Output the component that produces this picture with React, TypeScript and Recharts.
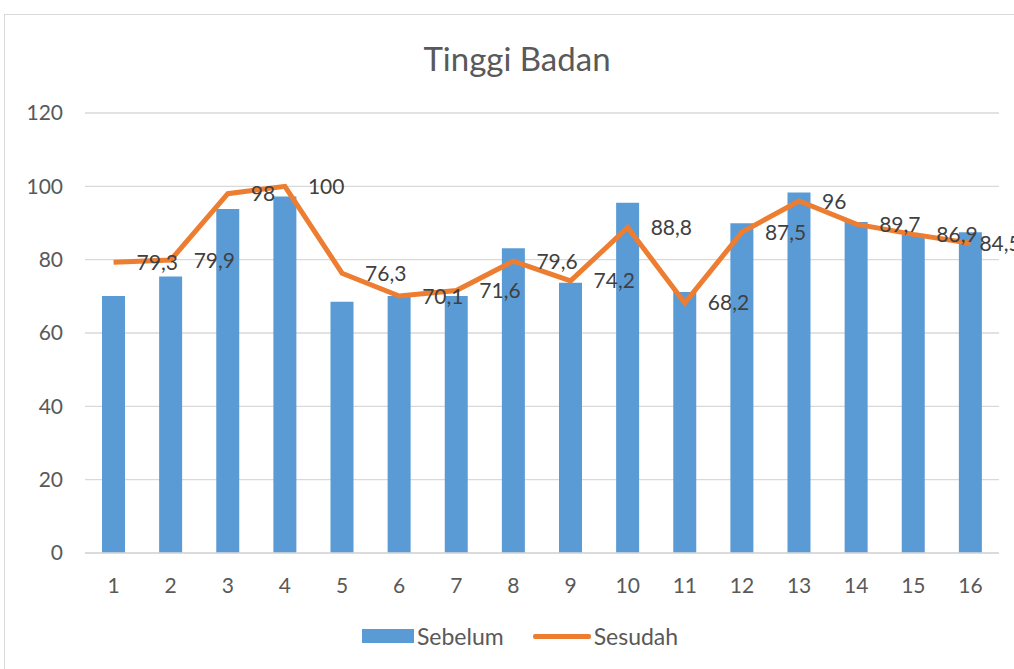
import { ComposedChart, Bar, Line, XAxis, YAxis, CartesianGrid, LabelList } from 'recharts'

const categories = ['1', '2', '3', '4', '5', '6', '7', '8', '9', '10', '11', '12', '13', '14', '15', '16']
const sebelum = [70.1, 75.4, 93.8, 97.2, 68.5, 70.1, 70.1, 83.1, 73.7, 95.5, 71.2, 89.9, 98.3, 90.3, 86.7, 87.5]
const sesudah = [79.3, 79.9, 98, 100, 76.3, 70.1, 71.6, 79.6, 74.2, 88.8, 68.2, 87.5, 96, 89.7, 86.9, 84.5]
const yTicks = [0, 20, 40, 60, 80, 100, 120]

const FONT = 'Lato, "Open Sans", sans-serif'
const BLUE = '#5B9BD5'
const ORANGE = '#ED7D31'

const data = categories.map((c, i) => ({ cat: c, sebelum: sebelum[i], sesudah: sesudah[i] }))

const fmt = (v: number | string) => String(v).replace('.', ',')

// Excel pulls the last label in so it stays near the plot edge
const PointLabel = (props: any) => {
  const { x, y, value, index } = props
  const last = index === sesudah.length - 1
  return (
    <text
      x={x + (last ? 9 : 23)}
      y={y}
      dy="0.36em"
      textAnchor="start"
      fill="#404040"
      fontSize={21}
      fontFamily={FONT}
    >
      {fmt(value)}
    </text>
  )
}

export default function App() {
  return (
    <div style={{ position: 'fixed', left: 0, top: 0, width: 1014, height: 669, overflow: 'hidden', background: '#fff', fontFamily: FONT }}>
      {/* chart frame */}
      <div style={{ position: 'absolute', left: 4, top: 14, width: 1010, height: 1, background: '#D9D9D9' }} />
      <div style={{ position: 'absolute', left: 4, top: 14, width: 1, height: 655, background: '#D9D9D9' }} />

      <div style={{ position: 'absolute', left: 0, top: 38, width: 1034, textAlign: 'center', fontSize: 33, color: '#595959' }}>
        Tinggi Badan
      </div>

      <div style={{ position: 'absolute', left: 0, top: 0 }}>
        <ComposedChart width={1014} height={669} data={data} margin={{ top: 113, right: 15, bottom: 86, left: 0 }}>
          <CartesianGrid vertical={false} stroke="#D9D9D9" strokeWidth={1.3} />
          <XAxis
            dataKey="cat"
            height={30}
            axisLine={{ stroke: '#D9D9D9', strokeWidth: 1.3 }}
            tickLine={false}
            tickMargin={19}
            tick={{ fill: '#595959', fontSize: 21, fontFamily: FONT }}
          />
          <YAxis
            width={85}
            domain={[0, 120]}
            ticks={yTicks}
            axisLine={false}
            tickLine={false}
            tickMargin={16}
            tick={{ fill: '#595959', fontSize: 21, fontFamily: FONT }}
          />
          <Bar dataKey="sebelum" name="Sebelum" fill={BLUE} barSize={23} isAnimationActive={false} />
          <Line
            dataKey="sesudah"
            name="Sesudah"
            type="linear"
            stroke={ORANGE}
            strokeWidth={5}
            dot={false}
            activeDot={false}
            isAnimationActive={false}
          >
            <LabelList dataKey="sesudah" content={<PointLabel />} />
          </Line>
        </ComposedChart>
      </div>

      {/* legend */}
      <div style={{ position: 'absolute', top: 622, left: 0, width: 1040, display: 'flex', justifyContent: 'center', alignItems: 'center', fontSize: 23, color: '#595959' }}>
        <span style={{ display: 'inline-block', width: 52, height: 14, background: BLUE, marginRight: 3 }} />
        <span style={{ marginRight: 29 }}>Sebelum</span>
        <span style={{ display: 'inline-block', width: 58, height: 5, background: ORANGE, borderRadius: 2, marginRight: 3 }} />
        <span>Sesudah</span>
      </div>
    </div>
  )
}
